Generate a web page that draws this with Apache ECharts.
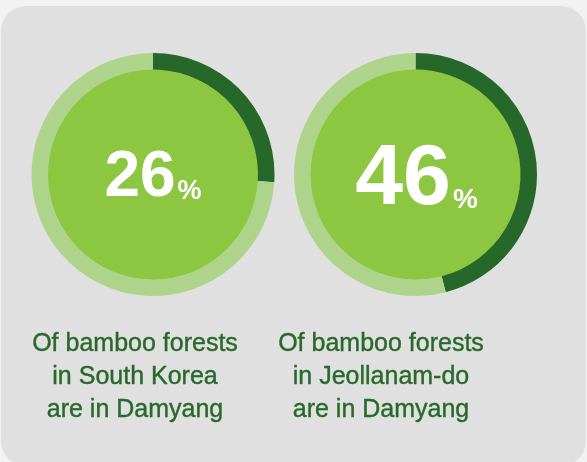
<!DOCTYPE html>
<html><head><meta charset="utf-8">
<script src="https://cdn.jsdelivr.net/npm/echarts@6/dist/echarts.min.js"></script>
<style>html,body{margin:0;padding:0;background:#f2f2f2}#c{width:587px;height:462px}</style>
</head><body><div id="c"></div>
<script>
const categories = ['South Korea', 'Jeollanam-do'];
const percentValues = [26, 46];
const captions = ['Of bamboo forests\nin South Korea\nare in Damyang', 'Of bamboo forests\nin Jeollanam-do\nare in Damyang'];

const centers = [[153, 174.5], [415.5, 174.5]];
const numSize = [64, 86];
const pctSize = [27, 28];
const labelOffset = [[0, 4], [1, 6]];
const captionX = [135, 381];

const chart = echarts.init(document.getElementById('c'), null, {renderer: 'canvas'});
const series = [];
percentValues.forEach((v, i) => {
  series.push({
    type: 'pie', silent: true, center: centers[i], radius: [0, 105.5],
    label: {show: true, position: 'center', offset: labelOffset[i],
      formatter: () => '{n|' + v + '}{p|%}',
      rich: {
        n: {fontSize: numSize[i], fontWeight: 'bold', color: '#fff', fontFamily: 'Liberation Sans', verticalAlign: 'bottom', lineHeight: numSize[i]},
        p: {fontSize: pctSize[i], fontWeight: 'bold', color: '#fff', fontFamily: 'Liberation Sans', verticalAlign: 'bottom', padding: [0, 0, (numSize[i] - pctSize[i]) * 0.155, 2]}
      }},
    labelLine: {show: false},
    itemStyle: {color: '#8dc641'},
    data: [{name: categories[i], value: 100}]
  });
  series.push({
    type: 'pie', silent: true, center: centers[i], radius: [105, 121.5],
    startAngle: 90, clockwise: true,
    label: {show: false}, labelLine: {show: false},
    data: [
      {name: 'share', value: v, itemStyle: {color: '#26672a'}},
      {name: 'rest', value: 100 - v, itemStyle: {color: '#aed48b'}}
    ]
  });
});

chart.setOption({
  animation: false,
  backgroundColor: '#f2f2f2',
  graphic: [{type: 'rect', z: -10, shape: {x: 1, y: 6, width: 585, height: 460, r: 25}, style: {fill: '#e0e0e0'}}],
  title: captions.map((t, i) => ({
    text: t, left: captionX[i], top: 328, textAlign: 'center', padding: 0,
    textStyle: {fontSize: 25, fontWeight: 'normal', color: '#28682a', fontFamily: 'Liberation Sans', lineHeight: 33,
      textBorderColor: '#28682a', textBorderWidth: 0.4}
  })),
  series: series
});
</script></body></html>
